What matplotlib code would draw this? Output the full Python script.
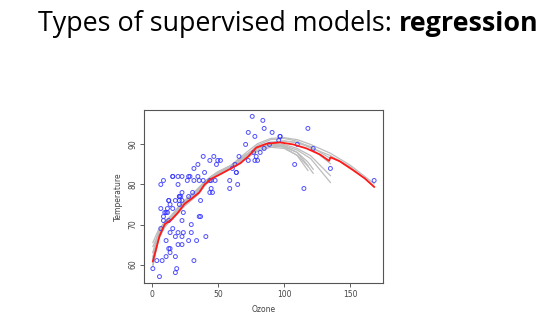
import matplotlib.pyplot as plt

# airquality: Ozone vs Temp (rows with Ozone present)
ozone = [41, 36, 12, 18, 28, 23, 19, 8, 7, 16, 11, 14, 18, 14, 34, 6, 30, 11, 1, 11,
         4, 32, 23, 45, 115, 37, 29, 71, 39, 23, 21, 37, 20, 12, 13, 135, 49, 32, 64, 40,
         77, 97, 97, 85, 10, 27, 7, 48, 35, 61, 79, 63, 16, 80, 108, 20, 52, 82, 50, 64,
         59, 39, 9, 16, 78, 35, 66, 122, 89, 110, 44, 28, 65, 22, 59, 23, 31, 44, 21, 9,
         45, 168, 73, 76, 118, 84, 85, 96, 78, 73, 91, 47, 32, 20, 23, 21, 24, 44, 21, 28,
         9, 13, 46, 18, 13, 24, 16, 13, 23, 36, 7, 14, 30, 14, 18, 20]
temp = [67, 72, 74, 62, 66, 65, 59, 61, 74, 69, 66, 68, 58, 64, 66, 57, 68, 62, 59, 73,
        61, 61, 67, 81, 79, 76, 82, 90, 87, 82, 77, 72, 65, 73, 76, 84, 85, 81, 83, 83,
        88, 92, 92, 89, 73, 81, 80, 81, 82, 84, 87, 85, 74, 86, 85, 82, 86, 88, 86, 83,
        81, 81, 81, 82, 86, 85, 87, 89, 90, 90, 86, 82, 80, 77, 79, 76, 78, 78, 77, 72,
        79, 81, 86, 97, 94, 96, 94, 91, 92, 93, 93, 87, 84, 80, 78, 75, 73, 81, 76, 77,
        71, 71, 78, 67, 76, 68, 82, 64, 71, 81, 69, 63, 70, 75, 76, 68]

# main smoother (red)
fit_x = [1, 6, 10, 15, 20, 25, 30, 36, 40, 45, 51, 60, 67, 73, 79, 87, 97, 107, 117,
         127, 134, 135, 142, 152, 161, 168]
fit_y = [60.8, 67.1, 70.1, 71.2, 73.0, 75.2, 76.4, 78.0, 80.0, 81.4, 82.4, 84.0, 85.3,
         87.0, 89.2, 90.2, 90.5, 90.0, 89.0, 87.5, 85.9, 86.8, 85.8, 83.6, 81.5, 79.4]

# bootstrap smoothers (grey)
grid_long = [1, 5, 10, 15, 20, 25, 30, 35, 40, 45, 50, 60, 70, 80, 90, 100, 110, 120, 135, 150, 168]
grid_135 = [1, 5, 10, 15, 20, 25, 30, 35, 40, 45, 50, 60, 70, 80, 90, 100, 110, 120, 135]
grid_122 = [1, 5, 10, 15, 20, 25, 30, 35, 40, 45, 50, 60, 70, 80, 90, 100, 110, 118, 122]
grid_118 = [1, 5, 10, 15, 20, 25, 30, 35, 40, 45, 50, 60, 70, 80, 90, 100, 110, 118]

boot = [
    (grid_long, [61.5, 67, 70, 72, 74, 75.8, 77.3, 78.8, 80.3, 81.8, 82.8, 84.6, 87, 89.5, 90.6, 90.9, 90.4, 89.2, 87.2, 84.4, 79.5]),
    (grid_long, [63, 66.5, 69.3, 71.3, 73.2, 75, 76.5, 78.2, 80, 81.5, 82.8, 84.8, 87.6, 90.2, 91.5, 91.7, 91.2, 90, 87.8, 84.8, 80.2]),
    (grid_135, [64.5, 67.5, 70, 72, 73.8, 75.5, 77.2, 78.8, 80.5, 82, 83, 84.6, 86.8, 89, 90.3, 90.8, 90.5, 89.5, 86.5]),
    (grid_135, [60, 66, 70, 71, 72.8, 74.6, 76, 77.4, 79.6, 81.2, 82.4, 84.2, 86.8, 89.8, 91.2, 91.5, 90.8, 89.2, 85.2]),
    (grid_135, [61, 67.5, 70.5, 72, 74.2, 76, 77.5, 78.8, 80.6, 82, 83.2, 84.8, 87, 89.3, 90.2, 90, 89, 87.2, 82.2]),
    (grid_135, [62, 66.8, 69.8, 71.6, 73.5, 75.6, 77, 78.3, 80.4, 81.8, 82.8, 84.7, 87.2, 89.3, 90, 89.7, 88.6, 86.5, 80.5]),
    (grid_122, [63, 68, 70.8, 72.3, 74.3, 76, 77.4, 79, 80.7, 82, 83, 84.4, 86.4, 88.6, 89.6, 89.4, 88, 85.6, 83.8]),
    (grid_122, [65.5, 68.5, 70.6, 72, 73.6, 75.3, 76.6, 78.2, 80.2, 81.6, 82.8, 84.4, 86.3, 88.3, 89.3, 89, 87.3, 84.6, 82.8]),
    (grid_118, [59.5, 66, 69.6, 71.8, 73.5, 75, 76.5, 78, 80, 81.6, 82.7, 84.6, 87, 89.3, 90, 89.6, 88, 84.7]),
    (grid_118, [60.5, 67, 70.3, 71.5, 73.2, 75, 76.3, 77.8, 79.8, 81.4, 82.5, 84, 86.3, 89, 89.9, 89.3, 87.2, 83.5]),
]

fig = plt.figure(figsize=(5.5, 3.28), dpi=100)
fig.patch.set_facecolor('white')

# Tytuł z pogrubionym końcem
t1 = fig.text(38 / 550, 1 - 31 / 328, 'Types of supervised models: ', fontsize=19.4,
              family='Open Sans', ha='left', va='baseline')
fig.canvas.draw()
bb = t1.get_window_extent()
fig.text(bb.x1 / 550, 1 - 31 / 328, 'regression', fontsize=19.4, family='Open Sans',
         fontweight='bold', ha='left', va='baseline')

ax = fig.add_axes([144 / 550, 1 - 283 / 328, 239 / 550, 173 / 328])

for gx, gy in boot:
    ax.plot(gx, gy, color='#bdbdbd', lw=0.9, zorder=1)
ax.scatter(ozone, temp, s=8, facecolors='none', edgecolors='#3333ff', linewidths=0.7,
           alpha=0.85, zorder=2)
ax.plot(fit_x, fit_y, color='#ff1a1a', lw=1.3, zorder=3)

ax.set_xlim(-5.68, 174.68)
ax.set_ylim(55.4, 98.6)
ax.set_xticks([0, 50, 100, 150])
ax.set_yticks([60, 70, 80, 90])
ax.tick_params(labelsize=5.5, colors='#444444', length=3, width=0.6, pad=2)
for lab in ax.get_yticklabels():
    lab.set_rotation(90)
    lab.set_va('center')
for sp in ax.spines.values():
    sp.set_color('#555555')
    sp.set_linewidth(0.8)
ax.set_xlabel('Ozone', fontsize=5.5, color='#444444', labelpad=4)
ax.set_ylabel('Temperature', fontsize=5.5, color='#444444', labelpad=4)

fig.savefig('out.png', dpi=100)
